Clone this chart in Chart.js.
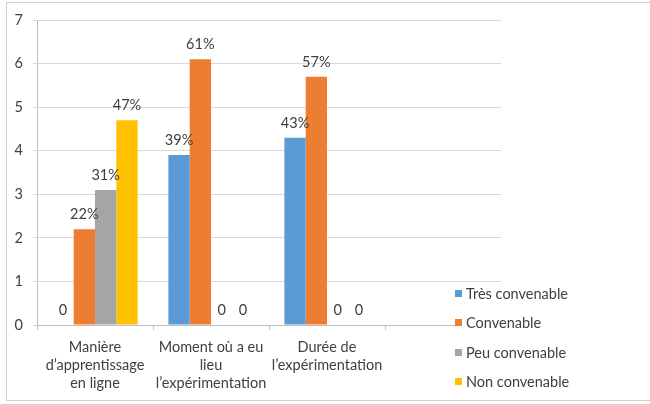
<!DOCTYPE html>
<html>
<head>
<meta charset="utf-8">
<script src="https://cdn.jsdelivr.net/npm/chart.js@4/dist/chart.umd.min.js"></script>
<style>
  html, body { margin: 0; padding: 0; background: #fff; }
  #wrap { position: relative; width: 650px; height: 404px; overflow: hidden; }
  #frame { position: absolute; left: 6px; top: 2px; width: 660px; height: 399px; border: 1px solid #d0d0d0; box-sizing: border-box; }
  canvas { position: absolute; left: 0; top: 0; }
  #cover { position: absolute; left: 455px; top: 287px; width: 60px; height: 110px; background: #fff; }
  #legend { position: absolute; left: 455px; top: 279px; width: 170px; font-family: Lato, sans-serif; font-size: 14.5px; color: #404040; }
  .item { height: 29.3px; display: flex; align-items: center; white-space: nowrap; }
  .sw { width: 7px; height: 7px; margin-right: 4px; display: inline-block; }
</style>
</head>
<body>
<div id="wrap">
  <div id="frame"></div>
  <canvas id="c" width="650" height="404"></canvas>
  <div id="cover"></div>
  <div id="legend"></div>
</div>
<script>
const categories = [
  ["Manière", "d’apprentissage", "en ligne"],
  ["Moment où a eu", "lieu", "l’expérimentation"],
  ["Durée de", "l’expérimentation"],
  ""
];
const seriesNames = ["Très convenable", "Convenable", "Peu convenable", "Non convenable"];
const tresConvenable = [0, 3.9, 4.3, null];
const convenable = [2.2, 6.1, 5.7, null];
const peuConvenable = [3.1, 0, 0, null];
const nonConvenable = [4.7, 0, 0, null];
const seriesLabels = [
  ["0", "39%", "43%", null],
  ["22%", "61%", "57%", null],
  ["31%", "0", "0", null],
  ["47%", "0", "0", null]
];
const colors = ["#5B9BD5", "#ED7D31", "#A5A5A5", "#FFC000"];
const yTicks = [0, 1, 2, 3, 4, 5, 6, 7];

const FONT = 'Lato, sans-serif';
const FS = 14.5;

const labelPlugin = {
  id: 'valueLabels',
  afterDatasetsDraw(chart) {
    const ctx = chart.ctx;
    ctx.save();
    ctx.font = FS + 'px ' + FONT;
    ctx.fillStyle = '#404040';
    ctx.textAlign = 'center';
    ctx.textBaseline = 'alphabetic';
    chart.data.datasets.forEach((ds, i) => {
      const meta = chart.getDatasetMeta(i);
      meta.data.forEach((bar, j) => {
        const txt = seriesLabels[i][j];
        if (txt == null || ds.data[j] == null) return;
        ctx.fillText(txt, bar.x, bar.y - 10);
      });
    });
    ctx.restore();
  }
};

const data = [tresConvenable, convenable, peuConvenable, nonConvenable];

new Chart(document.getElementById('c'), {
  type: 'bar',
  data: {
    labels: categories,
    datasets: seriesNames.map((n, i) => ({
      label: n,
      data: data[i],
      backgroundColor: colors[i],
      borderWidth: 0,
      barPercentage: 1,
      categoryPercentage: 0.735
    }))
  },
  options: {
    responsive: false,
    animation: false,
    devicePixelRatio: 1,
    layout: { padding: { left: 0, right: 149, top: 20, bottom: 0 } },
    plugins: { legend: { display: false }, tooltip: { enabled: false } },
    scales: {
      x: {
        offset: true,
        grid: { drawOnChartArea: false, drawTicks: true, tickLength: 5, color: '#bfbfbf', offset: true },
        border: { display: true, color: '#bfbfbf' },
        ticks: { color: '#404040', font: { family: FONT, size: FS, lineHeight: 1.26 }, padding: 8, maxRotation: 0, autoSkip: false },
        afterFit(s) { s.height = 79; }
      },
      y: {
        min: 0, max: 7,
        afterBuildTicks(s) { s.ticks = yTicks.map(v => ({ value: v })); },
        grid: { color: '#d9d9d9', tickLength: 4 },
        border: { display: true, color: '#bfbfbf' },
        ticks: { color: '#404040', font: { family: FONT, size: FS }, padding: 10 },
        afterFit(s) { s.width = 37; }
      }
    }
  },
  plugins: [labelPlugin]
});

const lg = document.getElementById('legend');
seriesNames.forEach((n, i) => {
  const d = document.createElement('div');
  d.className = 'item';
  d.innerHTML = '<span class="sw" style="background:' + colors[i] + '"></span><span></span>';
  d.lastChild.textContent = n;
  lg.appendChild(d);
});
</script>
</body>
</html>
